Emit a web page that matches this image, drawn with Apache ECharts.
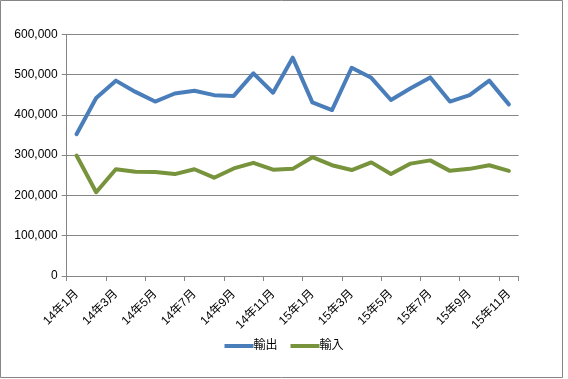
<!DOCTYPE html>
<html>
<head>
<meta charset="utf-8">
<script src="https://cdn.jsdelivr.net/npm/echarts@6/dist/echarts.min.js"></script>
<style>html,body{margin:0;padding:0;background:#fff}#c{width:568px;height:379px}</style>
</head>
<body>
<div id="c"></div>
<script>
var categories = ['14年1月','14年2月','14年3月','14年4月','14年5月','14年6月','14年7月','14年8月','14年9月','14年10月','14年11月','14年12月',
  '15年1月','15年2月','15年3月','15年4月','15年5月','15年6月','15年7月','15年8月','15年9月','15年10月','15年11月'];
var exportsData = [352000,442000,485000,457000,433000,453000,460000,449000,447000,503000,455000,542000,
  431000,412000,517000,492000,437000,466000,493000,433000,449000,485000,426000];
var importsData = [299000,208000,265000,259000,258000,253000,265000,244000,267000,281000,264000,266000,
  295000,275000,263000,282000,253000,279000,287000,261000,266000,275000,261000];
var seriesNames = ['輸出','輸入'];
var yTicks = {min:0, max:600000, interval:100000};

var chart = echarts.init(document.getElementById('c'));
var font = '"Liberation Sans", "Noto Sans CJK JP", sans-serif';
chart.setOption({
  animation:false,
  textStyle:{fontFamily:font},
  graphic:[{type:'rect', shape:{x:0.5,y:0.5,width:562,height:377}, style:{fill:'none', stroke:'#868686', lineWidth:1}}],
  grid:{left:66.7, right:49.3, top:34.3, bottom:103, containLabel:false},
  legend:{
    data:seriesNames, bottom:null, top:335, left:'center',
    icon:'rect', itemWidth:29, itemHeight:4, itemGap:13,
    textStyle:{fontFamily:font, fontSize:12, color:'#000', padding:[0,0,0,-5]}
  },
  xAxis:{
    type:'category', data:categories, boundaryGap:true,
    axisLine:{lineStyle:{color:'#868686', width:1}},
    axisTick:{show:true, interval:1, length:5, lineStyle:{color:'#868686'}},
    axisLabel:{interval:1, rotate:45, fontSize:12, color:'#000', margin:16, fontFamily:font}
  },
  yAxis:{
    type:'value', min:yTicks.min, max:yTicks.max, interval:yTicks.interval,
    axisLine:{show:true, lineStyle:{color:'#868686'}},
    axisTick:{show:true, length:5, lineStyle:{color:'#868686'}},
    splitLine:{lineStyle:{color:'#868686', width:1}},
    axisLabel:{fontSize:12, color:'#000', margin:9, fontFamily:font,
      formatter:function(v){return v.toLocaleString('en-US');}}
  },
  series:[
    {name:seriesNames[0], type:'line', data:exportsData, showSymbol:false, symbol:'none',
     lineStyle:{color:'#4A7EBB', width:4, cap:'round', join:'round'}, itemStyle:{color:'#4A7EBB'}},
    {name:seriesNames[1], type:'line', data:importsData, showSymbol:false, symbol:'none',
     lineStyle:{color:'#77933C', width:4, cap:'round', join:'round'}, itemStyle:{color:'#77933C'}}
  ]
});
</script>
</body>
</html>
